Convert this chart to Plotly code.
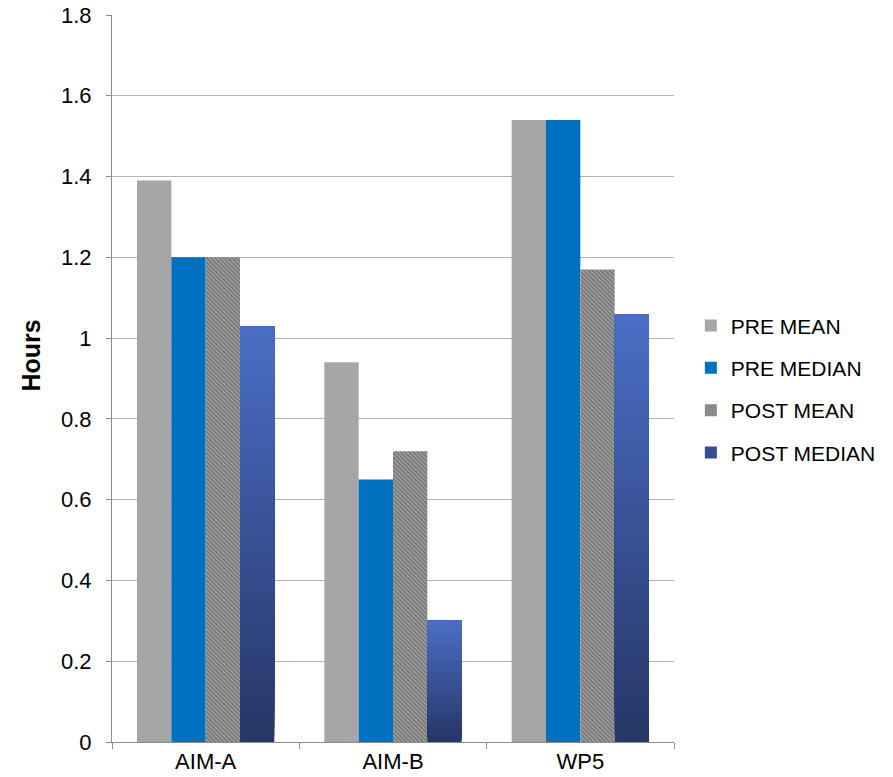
import plotly.graph_objects as go

categories = ["AIM-A", "AIM-B", "WP5"]
pre_mean = [1.39, 0.94, 1.54]
pre_median = [1.20, 0.65, 1.54]
post_mean = [1.20, 0.72, 1.17]
post_median = [1.03, 0.30, 1.06]

FONT = "Liberation Sans, Arial, sans-serif"

fig = go.Figure()

fig.add_trace(go.Bar(
    x=categories, y=pre_mean, name="PRE MEAN", offsetgroup="a",
    marker=dict(color="#a6a6a6", line=dict(width=0)), legendgroup="a",
))
fig.add_trace(go.Bar(
    x=categories, y=pre_median, name="PRE MEDIAN", offsetgroup="b",
    marker=dict(color="#0070c0", line=dict(width=0)), legendgroup="b",
))
fig.add_trace(go.Bar(
    x=categories, y=post_mean, name="POST MEAN", offsetgroup="c",
    marker=dict(color="#8a8a8a", line=dict(width=0),
                pattern=dict(shape="\\", fgcolor="#3c3c3c", bgcolor="#a4a4a4",
                             size=3, solidity=0.5)),
    legendgroup="c",
))

# POST MEDIAN: vertical gradient. Each layer runs from its own base up to the
# bar top, and later (lighter) layers are drawn over the earlier ones.
top_rgb = (0x4b, 0x6e, 0xc6)
bottom_rgb = (0x26, 0x36, 0x66)
n_layers = 60
for i in range(n_layers):
    t = (i + 0.5) / n_layers
    rgb = tuple(round(b + (tp - b) * t) for b, tp in zip(bottom_rgb, top_rgb))
    color = "rgb(%d,%d,%d)" % rgb
    bases = [v * i / n_layers for v in post_median]
    fig.add_trace(go.Bar(
        x=categories,
        y=[v - b for v, b in zip(post_median, bases)],
        base=bases,
        offsetgroup="d", legendgroup="d",
        name="POST MEDIAN", showlegend=False,
        marker=dict(color=color, line=dict(width=0)),
        hoverinfo="skip",
    ))
# legend entry for the gradient series
fig.add_trace(go.Bar(
    x=categories, y=[None] * len(categories), name="POST MEDIAN",
    offsetgroup="d", legendgroup="d",
    marker=dict(color="#364c94", line=dict(width=0)),
))

fig.update_layout(
    width=893, height=777,
    margin=dict(l=112, r=216, t=15, b=35),
    barmode="group", bargap=0.267, bargroupgap=0,
    plot_bgcolor="white", paper_bgcolor="white",
    font=dict(family=FONT, size=21, color="#000000"),
    showlegend=True,
    legend=dict(
        x=1.03, y=0.485, xanchor="left", yanchor="middle",
        font=dict(family=FONT, size=21, color="#000000"),
        traceorder="grouped", tracegroupgap=12,
        itemwidth=30, bgcolor="rgba(0,0,0,0)",
    ),
    xaxis=dict(
        showgrid=False, showline=True, linecolor="#8c8c8c", linewidth=1,
        ticks="outside", tickson="boundaries", ticklen=6, tickcolor="#8c8c8c",
        tickfont=dict(size=22), fixedrange=True, automargin=False,
    ),
    yaxis=dict(
        range=[0, 1.8], dtick=0.2, tick0=0,
        showgrid=True, gridcolor="#b3b3b3", gridwidth=1,
        showline=True, linecolor="#8c8c8c", linewidth=1,
        ticks="outside", ticklen=5, tickcolor="#8c8c8c",
        ticklabelstandoff=10,
        tickfont=dict(size=22), zeroline=False, automargin=False,
    ),
    annotations=[dict(
        text="<b>Hours</b>", textangle=-90,
        xref="paper", yref="paper", x=-0.145, y=0.531,
        xanchor="center", yanchor="middle", showarrow=False,
        font=dict(family=FONT, size=25, color="#000000"),
    )],
)

fig.write_html("out.html")
